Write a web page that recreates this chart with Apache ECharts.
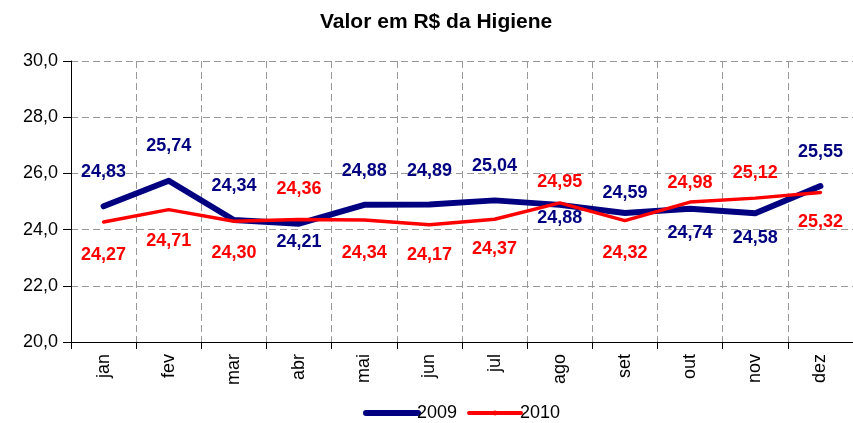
<!DOCTYPE html>
<html>
<head>
<meta charset="utf-8">
<script src="https://cdn.jsdelivr.net/npm/echarts@6/dist/echarts.min.js"></script>
<style>
  html, body { margin: 0; padding: 0; background: #fff; }
  #chart { width: 853px; height: 423px; }
</style>
</head>
<body>
<div id="chart"></div>
<script>
const months = ['jan', 'fev', 'mar', 'abr', 'mai', 'jun', 'jul', 'ago', 'set', 'out', 'nov', 'dez'];
const values2009 = [24.83, 25.74, 24.34, 24.21, 24.88, 24.89, 25.04, 24.88, 24.59, 24.74, 24.58, 25.55];
const values2010 = [24.27, 24.71, 24.30, 24.36, 24.34, 24.17, 24.37, 24.95, 24.32, 24.98, 25.12, 25.32];

// vertical label offsets (px), negative = above the point
const labelDy2009 = [-34, -35, -34, 18, -34, -34, -34, 13, -20, 24, 25, -34];
const labelDy2010 = [33, 31, 32, -30, 33, 30, 30, -21, 32, -19, -25, 30];

const NAVY = '#000080';
const RED = '#ff0000';
const FONT = '"Liberation Sans", Arial, sans-serif';

const fmt = v => v.toFixed(2).replace('.', ',');

const withLabels = (values, offsets) => values.map((v, i) => ({
  value: v,
  label: { offset: [0, offsets[i]] }
}));

const chart = echarts.init(document.getElementById('chart'));

chart.setOption({
  animation: false,
  textStyle: { fontFamily: FONT },
  title: {
    text: 'Valor em R$ da Higiene',
    left: 320,
    top: 12,
    padding: 0,
    textStyle: { fontFamily: FONT, fontSize: 21, fontWeight: 'bold', color: '#000' }
  },
  legend: {
    left: 363,
    top: 404,
    padding: 0,
    itemWidth: 52,
    itemHeight: 6,
    itemGap: 10,
    data: [
      { name: '2009', lineStyle: { width: 6, cap: 'round' } },
      { name: '2010', lineStyle: { width: 4, cap: 'round' } }
    ],
    textStyle: { fontFamily: FONT, fontSize: 18, color: '#000', padding: [0, 0, 0, -6] }
  },
  grid: { left: 71, right: -5, top: 61, bottom: 81 },
  xAxis: {
    type: 'category',
    data: months,
    boundaryGap: true,
    axisLine: { lineStyle: { color: '#000', width: 1 } },
    axisTick: { show: true, length: 7, lineStyle: { color: '#000' } },
    axisLabel: { rotate: 90, margin: 12, fontSize: 18, color: '#000', fontFamily: FONT },
    splitLine: { show: true, lineStyle: { color: '#999', type: [7, 4], width: 1 } }
  },
  yAxis: {
    type: 'value',
    min: 20,
    max: 30,
    interval: 2,
    axisLine: { show: true, lineStyle: { color: '#000', width: 1 } },
    axisTick: { show: true, length: 8, lineStyle: { color: '#000' } },
    axisLabel: { margin: 13, fontSize: 18, color: '#000', fontFamily: FONT, formatter: v => v.toFixed(1).replace('.', ',') },
    splitLine: { show: true, lineStyle: { color: '#999', type: [7, 4], width: 1 } }
  },
  series: [
    {
      name: '2009',
      type: 'line',
      data: withLabels(values2009, labelDy2009),
      symbol: 'circle',
      symbolSize: 2,
      itemStyle: { color: NAVY },
      lineStyle: { color: NAVY, width: 6, cap: 'round', join: 'round' },
      label: {
        show: true,
        position: 'inside',
        color: NAVY,
        fontSize: 18,
        fontWeight: 'bold',
        fontFamily: FONT,
        formatter: p => fmt(p.value)
      },
      z: 2
    },
    {
      name: '2010',
      type: 'line',
      data: withLabels(values2010, labelDy2010),
      symbol: 'circle',
      symbolSize: 2,
      itemStyle: { color: RED },
      lineStyle: { color: RED, width: 3.5, cap: 'round', join: 'round' },
      label: {
        show: true,
        position: 'inside',
        color: RED,
        fontSize: 18,
        fontWeight: 'bold',
        fontFamily: FONT,
        formatter: p => fmt(p.value)
      },
      z: 3
    }
  ]
});
</script>
</body>
</html>
